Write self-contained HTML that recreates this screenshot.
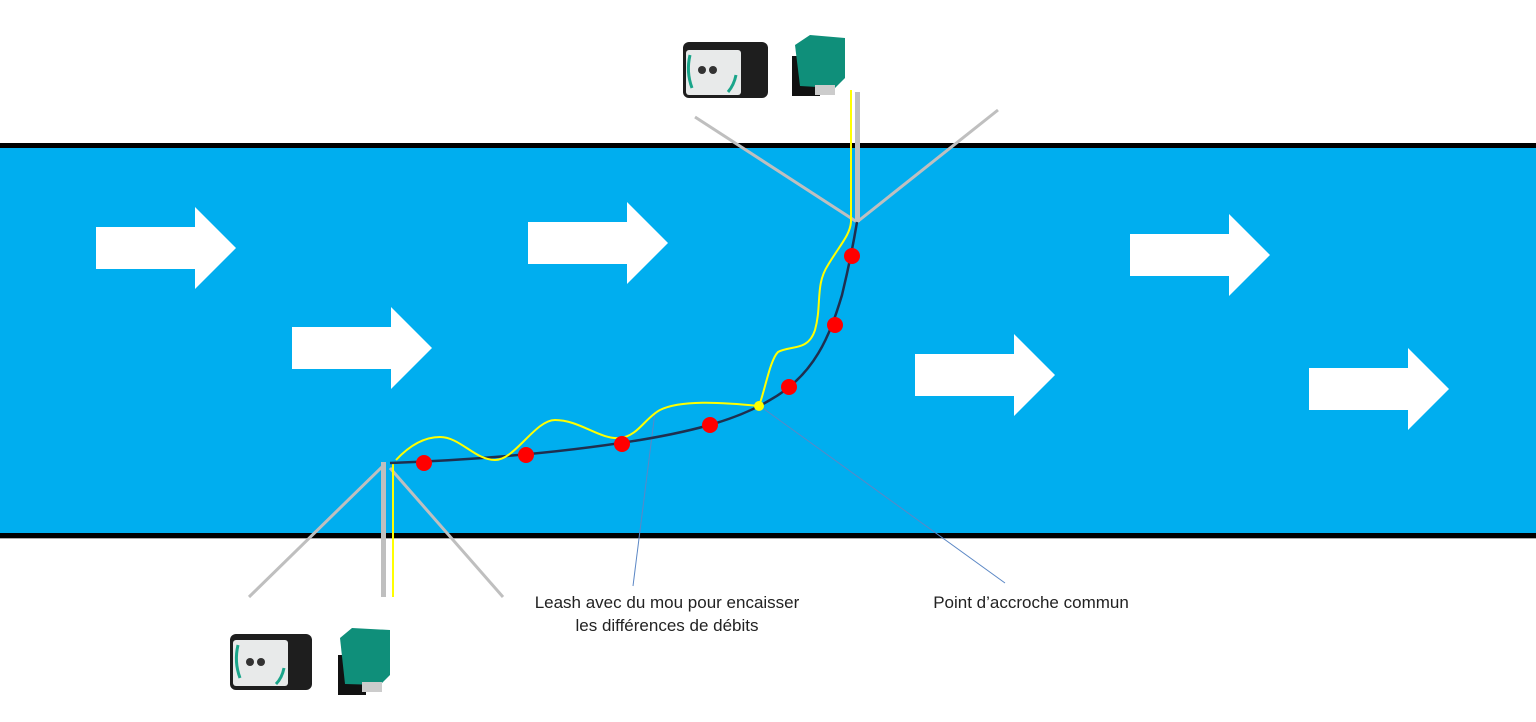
<!DOCTYPE html>
<html><head><meta charset="utf-8"><style>
html,body{margin:0;padding:0;background:#fff;}
svg{display:block;}
text{font-family:"Liberation Sans","DejaVu Sans",sans-serif;font-size:17px;fill:#222;}
</style></head><body>
<svg width="1536" height="722" viewBox="0 0 1536 722" xmlns="http://www.w3.org/2000/svg">
<rect x="0" y="0" width="1536" height="722" fill="#fff"/>
<rect x="0" y="143" width="1536" height="5" fill="#000"/>
<rect x="0" y="148" width="1536" height="385" fill="#00AEEF"/>
<rect x="0" y="533" width="1536" height="5" fill="#000"/>
<rect x="0" y="538" width="1536" height="1" fill="#aaa"/>
<g fill="#fff">
<polygon points="96,227 195,227 195,207 236,248 195,289 195,269 96,269"/>
<polygon points="292,327 391,327 391,307 432,348 391,389 391,369 292,369"/>
<polygon points="528,222 627,222 627,202 668,243 627,284 627,264 528,264"/>
<polygon points="915,354 1014,354 1014,334 1055,375 1014,416 1014,396 915,396"/>
<polygon points="1130,234 1229,234 1229,214 1270,255 1229,296 1229,276 1130,276"/>
<polygon points="1309,368 1408,368 1408,348 1449,389 1408,430 1408,410 1309,410"/>
</g>
<!-- top pole -->
<g stroke="#bfbfbf" stroke-width="3" fill="none">
<line x1="857" y1="222" x2="695" y2="117"/>
<line x1="857" y1="222" x2="998" y2="110"/>
<line x1="385" y1="464" x2="249" y2="597"/>
<line x1="390" y1="468" x2="503" y2="597"/>
</g>
<rect x="855" y="92" width="5" height="130" fill="#bfbfbf"/>
<rect x="381" y="462" width="5" height="135" fill="#bfbfbf"/>
<line x1="393" y1="462" x2="393" y2="597" stroke="#ffff00" stroke-width="2"/>
<!-- leader lines -->
<line x1="655" y1="412" x2="633" y2="586" stroke="#5b87c5" stroke-width="1"/>
<line x1="764" y1="409" x2="1005" y2="583" stroke="#5b87c5" stroke-width="1"/>
<!-- dark line -->
<path d="M390,463 C470,460 560,453 640,440 C700,430 740,418 770,400 C815,375 830,335 842,295 C850,262 854,240 857,222" stroke="#1f2f4f" stroke-width="2.5" fill="none"/>
<!-- yellow wavy -->
<path d="M396,460 C410,445 425,437 440,437 C460,437 475,460 495,460 C515,460 535,420 555,420 C580,420 600,440 620,438 C638,436 645,418 660,410 C680,400 720,402 759,406 C765,390 770,360 778,352 C790,345 808,352 815,330 C822,305 815,285 828,265 C840,245 850,235 851,222 L851,90" stroke="#ffff00" stroke-width="2" fill="none"/>
<g fill="#ff0000">
<circle cx="424" cy="463" r="8"/>
<circle cx="526" cy="455" r="8"/>
<circle cx="622" cy="444" r="8"/>
<circle cx="710" cy="425" r="8"/>
<circle cx="789" cy="387" r="8"/>
<circle cx="835" cy="325" r="8"/>
<circle cx="852" cy="256" r="8"/>
</g>
<circle cx="759" cy="406" r="5" fill="#ffff00"/>
<!-- devices top -->
<g>
<rect x="683" y="42" width="85" height="56" rx="6" fill="#1e1e1e"/>
<rect x="686" y="50" width="55" height="45" rx="3" fill="#e8eaea"/>
<circle cx="702" cy="70" r="4" fill="#333"/><circle cx="713" cy="70" r="4" fill="#333"/>
<path d="M690,55 Q686,72 692,88" stroke="#1aa58a" stroke-width="3" fill="none"/>
<path d="M736,75 Q734,85 728,92" stroke="#1aa58a" stroke-width="3" fill="none"/>
<rect x="792" y="56" width="28" height="40" fill="#111"/>
<polygon points="795,45 810,35 845,38 845,78 835,88 800,86" fill="#0f8f7a"/>
<rect x="815" y="85" width="20" height="10" fill="#ccc"/>
</g>
<!-- devices bottom -->
<g>
<rect x="230" y="634" width="82" height="56" rx="6" fill="#1e1e1e"/>
<rect x="233" y="640" width="55" height="46" rx="3" fill="#e8eaea"/>
<circle cx="250" cy="662" r="4" fill="#333"/><circle cx="261" cy="662" r="4" fill="#333"/>
<path d="M238,645 Q234,662 240,678" stroke="#1aa58a" stroke-width="3" fill="none"/>
<path d="M284,668 Q282,678 276,684" stroke="#1aa58a" stroke-width="3" fill="none"/>
<rect x="338" y="655" width="28" height="40" fill="#111"/>
<polygon points="340,638 352,628 390,630 390,675 380,685 345,684" fill="#0f8f7a"/>
<rect x="362" y="682" width="20" height="10" fill="#ccc"/>
</g>
<text x="667" y="608" text-anchor="middle">Leash avec du mou pour encaisser</text>
<text x="667" y="631" text-anchor="middle">les différences de débits</text>
<text x="1031" y="608" text-anchor="middle">Point d’accroche commun</text>
</svg>
</body></html>
